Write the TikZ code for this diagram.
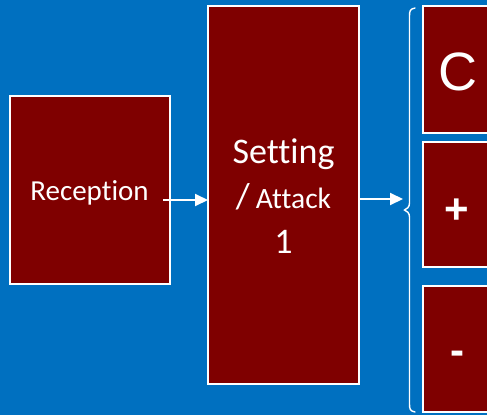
\documentclass[tikz,border=0pt]{standalone}
\usepackage{fontspec}
\setmainfont[Ligatures=NoCommon]{Carlito}
\newfontfamily\arialf{Liberation Sans}
\usetikzlibrary{arrows.meta}
\definecolor{bgblue}{HTML}{0070C0}
\definecolor{boxred}{HTML}{7F0000}
\begin{document}
\begin{tikzpicture}[x=1pt,y=-1pt,
  box/.style={draw=white,line width=1.4pt,fill=boxred,inner sep=0pt,outer sep=0pt},
  txt/.style={text=white,inner sep=0pt,align=center},
  arr/.style={draw=white,line width=2pt,-{Triangle[length=13pt,width=12pt]}}]
\fill[bgblue] (0,0) rectangle (487,415);
\useasboundingbox (0,0) rectangle (487,415);
\clip (0,0) rectangle (487,415);
% boxes
\node[box,minimum width=160pt,minimum height=188pt] (reception) at (90,190) {};
\node[box,minimum width=151pt,minimum height=378pt] (setting) at (283.5,195) {};
\node[box,minimum width=70pt,minimum height=127pt] (cbox) at (458,69.5) {};
\node[box,minimum width=70pt,minimum height=125pt] (plusbox) at (458,204.5) {};
\node[box,minimum width=70pt,minimum height=126pt] (minusbox) at (458,349) {};
% texts
\node[txt,font=\fontsize{29}{34}\selectfont] (receptiontxt) at (89.5,193) {Reception};
\node[txt,anchor=base] (settingtxt1) at (283.5,163) {\fontsize{36}{45}\selectfont Setting};
\node[txt,anchor=base] (settingtxt2) at (283.5,208) {\fontsize{36}{45}\selectfont /\,\fontsize{29.5}{45}\selectfont Attack};
\node[txt,anchor=base] (settingtxt3) at (283.5,253) {\fontsize{36}{45}\selectfont 1};
\node[txt,font=\arialf\fontsize{54}{60}\selectfont] (ctxt) at (458,71.5) {C};
\node[txt,font=\arialf\bfseries\fontsize{42}{48}\selectfont] (plustxt) at (457,211) {+};
\node[txt,font=\arialf\bfseries\fontsize{42}{48}\selectfont] (minustxt) at (457,358) {-};
% arrows
\coordinate (a1s) at (163,200);
\coordinate (a2e) at (403,199);
\draw[arr] (a1s) -- (setting.west |- a1s);
\draw[arr] (setting.east |- a2e) -- (a2e);
% brace
\draw[white,line width=1.4pt,line cap=round]
  (415,8) .. controls (410,9) and (409.5,11) .. (409.5,16)
  -- (409.5,203) .. controls (409.5,207) and (407,209) .. (404.5,210)
  .. controls (407,211) and (409.5,213) .. (409.5,217)
  -- (409.5,404) .. controls (409.5,409) and (410,411) .. (415,412);
\end{tikzpicture}
\end{document}
